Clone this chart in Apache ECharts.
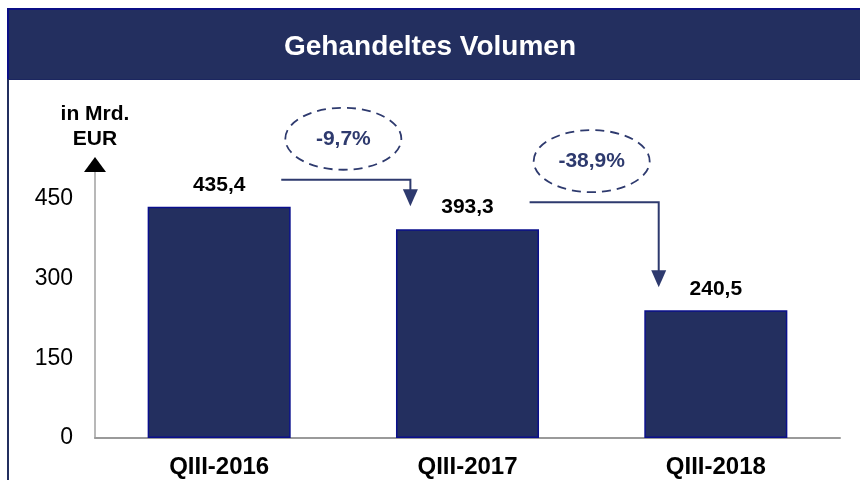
<!DOCTYPE html>
<html>
<head>
<meta charset="utf-8">
<script src="https://cdn.jsdelivr.net/npm/echarts@6/dist/echarts.min.js"></script>
<style>
html,body{margin:0;padding:0;background:#fff;}
#chart{width:860px;height:480px;}
</style>
</head>
<body>
<div id="chart"></div>
<script>
// ---- data ----
const titleText = 'Gehandeltes Volumen';
const unitLabel = 'in Mrd.\nEUR';
const categories = ['QIII-2016', 'QIII-2017', 'QIII-2018'];
const volumes = [435.4, 393.3, 240.5];
const volumeLabels = ['435,4', '393,3', '240,5'];
const changeLabels = ['-9,7%', '-38,9%'];
const yTickInterval = 150;
const yMin = 0;
const yAxisTop = 515;   // axis line runs a bit above the last tick (450), ending in an arrow

const FONT = 'Liberation Sans, Arial, sans-serif';
const NAVY = '#232F5F';
const ANNO = '#2E3A6E';

// connector data built from the arrays: [fromIndex, fromValue, toValue, label]
const connectorData = changeLabels.map((lab, i) => [i, volumes[i], volumes[i + 1], lab]);

const chart = echarts.init(document.getElementById('chart'), null, {renderer: 'canvas'});

const option = {
  animation: false,
  backgroundColor: '#ffffff',
  title: {
    text: titleText,
    left: 'center',
    top: 33,
    padding: 0,
    textStyle: {color: '#ffffff', fontFamily: FONT, fontWeight: 'bold', fontSize: 28, lineHeight: 28}
  },
  graphic: [
    {type: 'rect', z: -1, shape: {x: 7, y: 8, width: 853, height: 72},
     style: {fill: NAVY}},
    {type: 'line', z: -1, shape: {x1: 7, y1: 9, x2: 860, y2: 9},
     style: {stroke: '#0B0F85', lineWidth: 2}},
    {type: 'line', z: -1, shape: {x1: 8, y1: 8, x2: 8, y2: 80},
     style: {stroke: '#0B0F85', lineWidth: 2}},
    {type: 'line', z: -1, shape: {x1: 7, y1: 79.5, x2: 860, y2: 79.5},
     style: {stroke: '#1B2660', lineWidth: 1}},
    {type: 'line', z: -1, shape: {x1: 8, y1: 80, x2: 8, y2: 480},
     style: {stroke: NAVY, lineWidth: 2}}
  ],
  grid: {left: 95, right: 20, bottom: 42, top: 164.5, containLabel: false},
  xAxis: {
    type: 'category',
    data: categories,
    axisLine: {show: true, lineStyle: {color: '#9A9A9A', width: 2}},
    axisTick: {show: false},
    axisLabel: {color: '#000', fontFamily: FONT, fontWeight: 'bold', fontSize: 24, margin: 17}
  },
  yAxis: [
    {
      type: 'value',
      min: yMin,
      max: yAxisTop,
      interval: yTickInterval,
      name: unitLabel,
      nameLocation: 'end',
      nameGap: 13,
      nameTextStyle: {color: '#000', fontFamily: FONT, fontWeight: 'bold', fontSize: 21, lineHeight: 25, align: 'center'},
      axisLine: {show: true, lineStyle: {color: '#A0A0A0', width: 1.5}},
      axisTick: {show: false},
      splitLine: {show: false},
      axisLabel: {color: '#000', fontFamily: FONT, fontSize: 23, margin: 22, showMaxLabel: false}
    },
    {
      type: 'value',
      position: 'left',
      min: yMin,
      max: yAxisTop,
      interval: yTickInterval,
      axisLine: {show: true, symbol: ['none', 'triangle'], symbolSize: [22, 15],
                 lineStyle: {color: '#000000', width: 0}},
      axisTick: {show: false},
      splitLine: {show: false},
      axisLabel: {show: false}
    }
  ],
  series: [
    {
      type: 'bar',
      data: volumes.map((v, i) => ({value: v, label: {formatter: volumeLabels[i]}})),
      barWidth: '57.6%',
      itemStyle: {color: NAVY, borderColor: '#0A0F8C', borderWidth: 1.5},
      label: {show: true, position: 'top', distance: 11, color: '#000',
              fontFamily: FONT, fontWeight: 'bold', fontSize: 21},
      silent: true
    },
    {
      type: 'custom',
      data: connectorData,
      encode: {x: 0, y: 1},
      clip: false,
      z: 5,
      silent: true,
      renderItem: function (params, api) {
        const i = api.value(0);
        const from = api.coord([i, api.value(1)]);
        const to = api.coord([i + 1, api.value(2)]);
        const band = api.size([1, 0])[0];
        const label = connectorData[params.dataIndex][3];
        const x0 = from[0] + 0.25 * band;
        const x1 = to[0] - 0.23 * band;
        const yL = from[1] - 27;
        const tip = to[1] - 23;
        const headH = 17, headW = 15;
        const cx = (from[0] + to[0]) / 2;
        const cy = yL - 41;
        return {
          type: 'group',
          children: [
            {type: 'polyline', shape: {points: [[x0, yL], [x1, yL], [x1, tip - headH + 1]]},
             style: {stroke: ANNO, lineWidth: 2, fill: null}},
            {type: 'polygon', shape: {points: [[x1 - headW / 2, tip - headH], [x1 + headW / 2, tip - headH], [x1, tip]]},
             style: {fill: ANNO}},
            {type: 'ellipse', shape: {cx: cx, cy: cy, rx: 58, ry: 31},
             style: {fill: null, stroke: ANNO, lineWidth: 1.8, lineDash: [9, 6]}},
            {type: 'text', x: cx, y: cy,
             style: {text: label, fill: ANNO, font: 'bold 21px ' + FONT, align: 'center', verticalAlign: 'middle'}}
          ]
        };
      }
    }
  ]
};
chart.setOption(option);
</script>
</body>
</html>
